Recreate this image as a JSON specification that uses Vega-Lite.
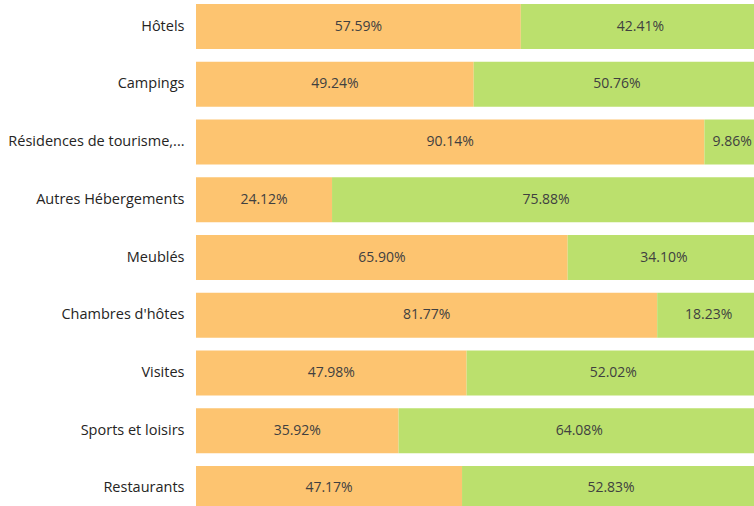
{
  "$schema": "https://vega.github.io/schema/vega-lite/v6.json",
  "autosize": {"type": "none"},
  "padding": {"left": 196, "top": 0, "right": 0, "bottom": 0},
  "width": 564,
  "height": 515,
  "background": "white",
  "config": {"view": {"stroke": null}, "font": "Open Sans"},
  "data": {"values": [
    {"cat": "Hôtels", "s": 1, "v": 0.5759}, {"cat": "Hôtels", "s": 2, "v": 0.4241},
    {"cat": "Campings", "s": 1, "v": 0.4924}, {"cat": "Campings", "s": 2, "v": 0.5076},
    {"cat": "Résidences de tourisme, villages vacances", "s": 1, "v": 0.9014}, {"cat": "Résidences de tourisme, villages vacances", "s": 2, "v": 0.0986},
    {"cat": "Autres Hébergements", "s": 1, "v": 0.2412}, {"cat": "Autres Hébergements", "s": 2, "v": 0.7588},
    {"cat": "Meublés", "s": 1, "v": 0.659}, {"cat": "Meublés", "s": 2, "v": 0.341},
    {"cat": "Chambres d'hôtes", "s": 1, "v": 0.8177}, {"cat": "Chambres d'hôtes", "s": 2, "v": 0.1823},
    {"cat": "Visites", "s": 1, "v": 0.4798}, {"cat": "Visites", "s": 2, "v": 0.5202},
    {"cat": "Sports et loisirs", "s": 1, "v": 0.3592}, {"cat": "Sports et loisirs", "s": 2, "v": 0.6408},
    {"cat": "Restaurants", "s": 1, "v": 0.4717}, {"cat": "Restaurants", "s": 2, "v": 0.5283}
  ]},
  "transform": [
    {"stack": "v", "groupby": ["cat"], "sort": [{"field": "s", "order": "ascending"}], "as": ["v0", "v1"]},
    {"calculate": "(datum.v0 + datum.v1) / 2", "as": "vm"}
  ],
  "encoding": {
    "y": {
      "field": "cat", "type": "nominal", "sort": null, "title": null,
      "scale": {"paddingInner": 0.221, "paddingOuter": 0.07},
      "axis": {
        "domain": false, "ticks": false, "labelPadding": 12,
        "labelFontSize": 14.5, "labelColor": "#252423", "labelLimit": 200,
        "labelExpr": "length(datum.label) > 24 ? substring(datum.label, 0, 23) + '...' : datum.label"
      }
    }
  },
  "layer": [
    {
      "mark": {"type": "bar"},
      "encoding": {
        "x": {"field": "v0", "type": "quantitative", "scale": {"domain": [0, 1], "nice": false}, "axis": null},
        "x2": {"field": "v1"},
        "color": {"field": "s", "type": "nominal", "legend": null,
          "scale": {"domain": [1, 2], "range": ["#FDC470", "#BBE06D"]}}
      }
    },
    {
      "mark": {"type": "text", "fontSize": 14, "color": "#404040"},
      "encoding": {
        "x": {"field": "vm", "type": "quantitative"},
        "text": {"field": "v", "type": "quantitative", "format": ".2%"}
      }
    }
  ]
}
